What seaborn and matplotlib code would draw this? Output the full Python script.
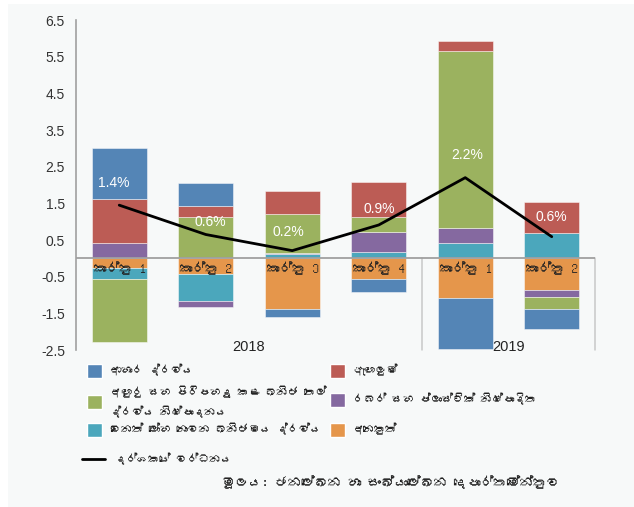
import numpy as np
import pandas as pd
import matplotlib
matplotlib.use("Agg")
import matplotlib.pyplot as plt
from matplotlib import font_manager
from matplotlib.lines import Line2D
from matplotlib.patches import Patch, Rectangle
import seaborn as sns

# ---------------- data ----------------
quarters = ["කාර්තු 1", "කාර්තු 2", "කාර්තු 3", "කාර්තු 4", "කාර්තු 1", "කාර්තු 2"]
years = ["2018", "2019"]
year_sizes = [4, 2]

other = [-0.27, -0.44, -1.39, -0.57, -1.07, -0.85]
nonmetal = [-0.30, -0.73, 0.12, 0.16, 0.41, 0.68]
rubber = [0.43, -0.17, 0.03, 0.55, 0.42, -0.20]
petroleum = [-1.72, 1.12, 1.06, 0.42, 4.82, -0.33]
clothing = [1.18, 0.31, 0.63, 0.96, 0.28, 0.86]
food = [1.39, 0.62, -0.22, -0.34, -1.41, -0.54]
growth = [1.45, 0.65, 0.21, 0.91, 2.20, 0.59]
growth_labels = ["1.4%", "0.6%", "0.2%", "0.9%", "2.2%", "0.6%"]

lab_food = "ආහාර ද්‍රව්‍ය"
lab_clothing = "ඇඟලුම්"
lab_petroleum = "අඟුරු සහ පිරිපහදු කළ ඛනිජ තෙල්\nද්‍රව්‍ය නිෂ්පාදනය"
lab_rubber = "රබර් සහ ප්ලාස්ටික් නිෂ්පාදිත"
lab_nonmetal = "වෙනත් ලෝහ නොවන ඛනිජමය ද්‍රව්‍ය"
lab_other = "අනෙකුත්"
lab_growth = "දර්ශකයේ වර්ධනය"
source_text = "මූලය: ජනලේඛන හා සංඛ්‍යාලේඛන දෙපාර්තමේන්තුව"

yticks = [-2.5, -1.5, -0.5, 0.5, 1.5, 2.5, 3.5, 4.5, 5.5, 6.5]

# ---------------- fonts ----------------
def find_sinhala_font():
    try:
        from fontTools.ttLib import TTFont
    except Exception:
        return None
    for fe in font_manager.fontManager.ttflist:
        try:
            tt = TTFont(fe.fname, fontNumber=0, lazy=True)
            cmap = tt.getBestCmap() or {}
            if 0x0D9A in cmap and 0x0DCF in cmap:
                return fe.name
        except Exception:
            continue
    return None

sin_name = find_sinhala_font()

def fix(s):
    # matplotlib has no complex shaping; the joiner only adds a stray glyph
    return s.replace("\u200d", "")

sns.set_theme(style="white")
plt.rcParams['font.family'] = ['Liberation Sans', 'DejaVu Sans']
SIN = [sin_name, 'Liberation Sans', 'DejaVu Sans'] if sin_name else ['Liberation Sans', 'DejaVu Sans']

# ---------------- figure ----------------
W, H = 634, 507
fig = plt.figure(figsize=(W / 100, H / 100), dpi=100, facecolor='white')
fig.patches.append(Rectangle((8 / W, 0), 1, 1 - 4 / H, transform=fig.transFigure,
                             facecolor='#F7F9F9', edgecolor='none', zorder=-10))
ax = fig.add_axes([76 / W, (H - 350) / H, 519 / W, 330 / H])
ax.set_facecolor('none')

c_other, c_teal, c_purple = '#E5964B', '#4BA7BC', '#8569A0'
c_green, c_red, c_blue = '#9BB25F', '#BC5C55', '#5485B6'

series = [
    (lab_other, other, c_other),
    (lab_nonmetal, nonmetal, c_teal),
    (lab_rubber, rubber, c_purple),
    (lab_petroleum, petroleum, c_green),
    (lab_clothing, clothing, c_red),
    (lab_food, food, c_blue),
]

n = len(quarters)
x = np.arange(n)
pos_base = np.zeros(n)
neg_base = np.zeros(n)
for label, vals, color in series:
    v = np.array(vals, dtype=float)
    base = np.where(v >= 0, pos_base, neg_base)
    ax.bar(x, v, width=0.64, bottom=base, color=color,
           edgecolor=(1, 1, 1, 0.55), linewidth=0.6, zorder=2)
    pos_base += np.where(v >= 0, v, 0)
    neg_base += np.where(v < 0, v, 0)

df_line = pd.DataFrame({"x": x, "growth": growth})
sns.lineplot(data=df_line, x="x", y="growth", ax=ax, color='black',
             linewidth=2.0, legend=False, zorder=4)

label_offsets = [(-4, 11), (3, 4), (-3, 8.5), (0, 6.5), (1.5, 11), (0, 9.5)]
for xi, yi, lab, off in zip(x, growth, growth_labels, label_offsets):
    ax.annotate(lab, (xi, yi), xytext=off, textcoords='offset points',
                ha='center', va='bottom', color='white', fontsize=10, zorder=5)

# axes cosmetics
ax.set_xlim(-0.5, n - 0.5)
ax.set_ylim(-2.5, 6.5)
ax.set_yticks(yticks)
ax.set_yticklabels([f"{t:.1f}" for t in yticks])
ax.tick_params(axis='y', length=0, pad=8, labelsize=10, labelcolor='#333333')
ax.set_xticks([])
ax.set_xlabel('')
ax.set_ylabel('')
for s in ['top', 'right', 'bottom']:
    ax.spines[s].set_visible(False)
ax.spines['left'].set_color('#A0A0A0')
ax.spines['left'].set_linewidth(1.2)

ax.axhline(0, color='#A0A0A0', linewidth=1.3, zorder=3)

# group separators and labels
start = 0
for yr, size in zip(years, year_sizes):
    end = start + size
    ax.plot([end - 0.5, end - 0.5], [0, -2.5], color='#C8C8C8', linewidth=1.1,
            zorder=1, clip_on=False)
    ax.text((start + end - 1) / 2, 0.01, yr, transform=ax.get_xaxis_transform(),
            ha='center', va='center', fontsize=10.5, color='#222222')
    start = end

for xi, q in zip(x, quarters):
    ax.annotate(q, (xi, 0), xytext=(0, -2), textcoords='offset points',
                ha='center', va='top', fontsize=9.5, color='#222222',
                family=SIN, zorder=6)

# ---------------- legend (one entry per box, placed as in the reference) ----------------
fs = 8
fpx = fs * 100 / 72
patch_kw = dict(handlelength=15 / fpx, handleheight=17.5 / fpx, handletextpad=8 / fpx)
entries = [
    (Patch(facecolor=c_blue), lab_food, 87, 371, patch_kw),
    (Patch(facecolor=c_green), lab_petroleum, 87, 402, patch_kw),
    (Patch(facecolor=c_teal), lab_nonmetal, 87, 430, patch_kw),
    (Patch(facecolor=c_red), lab_clothing, 330, 371, patch_kw),
    (Patch(facecolor=c_purple), lab_rubber, 330, 400, patch_kw),
    (Patch(facecolor=c_other), lab_other, 330, 430, patch_kw),
    (Line2D([0], [0], color='black', lw=2.0), lab_growth, 82, 459,
     dict(handlelength=23 / fpx, handletextpad=10 / fpx)),
]
for handle, text, px, py, kw in entries:
    lg = fig.legend([handle], [fix(text)], loc='center left',
                    bbox_to_anchor=(px / W, 1 - py / H), frameon=False,
                    borderpad=0, borderaxespad=0, labelspacing=0,
                    prop={'family': SIN, 'size': fs}, **kw)
    for t in lg.get_texts():
        t.set_color('#222222')
        t.set_linespacing(1.8)

fig.text(560 / W, 1 - 482 / H, fix(source_text), ha='right', va='center',
         fontsize=9.5, color='#222222', family=SIN)

fig.savefig('out.png', dpi=100, facecolor=fig.get_facecolor())
